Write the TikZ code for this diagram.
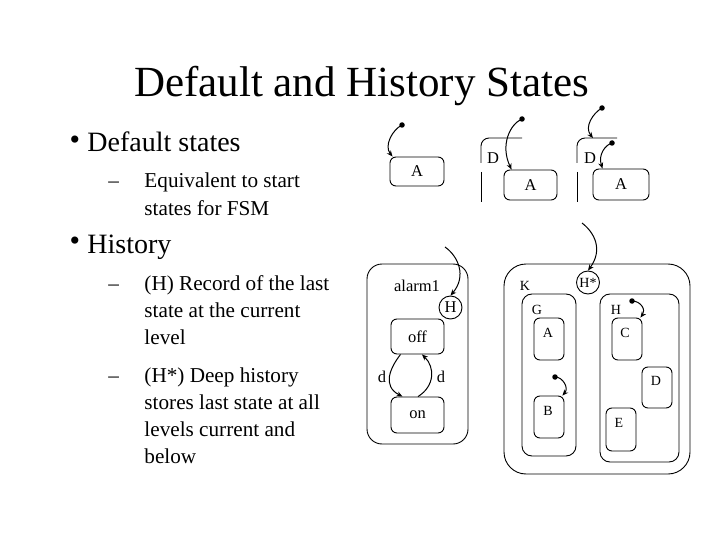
\documentclass[tikz,border=0pt]{standalone}
\usepackage{fontspec}
\setmainfont{Liberation Serif}
\usetikzlibrary{arrows.meta}
\begin{document}
\begin{tikzpicture}[x=1pt,y=-1pt,
  line width=0.9pt,
  sbox/.style={draw, rounded corners=6pt, inner sep=0pt},
  hcirc/.style={draw, circle, inner sep=0pt},
  lbl/.style={inner sep=0pt, font=\fontsize{16.5}{18}\selectfont},
  klbl/.style={inner sep=0pt, font=\fontsize{14}{16}\selectfont},
  trans/.style={-{Stealth[length=6pt,width=5pt]}, line width=1pt},
  dot/.style={fill, circle, inner sep=0pt, minimum size=5.5pt},
  body/.style={anchor=base west, inner sep=0pt, font=\fontsize{21.2}{27}\selectfont},
  head/.style={anchor=base west, inner sep=0pt, font=\fontsize{28}{32}\selectfont},
  bul/.style={inner sep=0pt, font=\fontsize{30}{32}\selectfont},
]
\useasboundingbox (0,0) rectangle (720,540);

% Title
\node[anchor=base, inner sep=0pt, font=\fontsize{43}{50}\selectfont] (title) at (361.5,97) {Default and History States};

% Text
\node[bul] (b1) at (75,143) {•};
\node[head] (t1) at (87,152) {Default states};
\node[body] (s1) at (108,188) {–};
\node[body] (t2) at (144,188) {Equivalent to start};
\node[body] (t3) at (144,215) {states for FSM};
\node[bul] (b2) at (75,244) {•};
\node[head] (t4) at (87,253) {History};
\node[body] (s2) at (108,290) {–};
\node[body] (t5) at (144,290) {(H) Record of the last};
\node[body] (t6) at (144,317) {state at the current};
\node[body] (t7) at (144,344) {level};
\node[body] (s3) at (108,382) {–};
\node[body] (t8) at (144,382) {(H*) Deep history};
\node[body] (t9) at (144,409) {stores last state at all};
\node[body] (t10) at (144,436) {levels current and};
\node[body] (t11) at (144,463) {below};

% Diagram 1: default state
\node[sbox, minimum width=54pt, minimum height=29pt, lbl] (A1) at (417,171.5) {A};
\node[dot] (d1) at (402,125) {};
\draw[trans] (d1.center) .. controls (392,130) and (384,146) .. ([xshift=3pt]A1.north west);

% Diagram 2
\draw[rounded corners=8pt] (522,138) -- (481,138) -- (481,163);
\draw (481,172) -- (481,202);
\node[lbl] (D2) at (493,158) {D};
\node[sbox, minimum width=53pt, minimum height=30pt, lbl] (A2) at (530.5,185) {A};
\node[dot] (d2) at (522,119) {};
\draw[trans] (d2.center) .. controls (510,124) and (500,145) .. ([xshift=8pt]A2.north west);

% Diagram 3
\draw[rounded corners=8pt] (617,138) -- (577,138) -- (577,163);
\draw (577,172) -- (577,202);
\coordinate (D3top) at (593,138);
\node[lbl] (D3) at (590,158) {D};
\node[sbox, minimum width=56pt, minimum height=31pt, lbl] (A3) at (621,184.5) {A};
\node[dot] (d3) at (602,108) {};
\draw[trans] (d3.center) .. controls (593,113) and (584,127) .. (D3top);
\node[dot] (d4) at (612,143) {};
\draw[trans] (d4.center) .. controls (605,145) and (598,155) .. ([xshift=10pt]A3.north west);

% alarm1 with H
\node[draw, rounded corners=15pt, minimum width=101pt, minimum height=180pt] (alarm) at (417.5,354) {};
\node[lbl] (alarmlbl) at (417,286) {alarm1};
\node[hcirc, minimum size=23pt, lbl] (H1) at (450.5,307.5) {H};
\node[sbox, minimum width=53pt, minimum height=35pt, lbl] (off) at (417.5,336.5) {off};
\node[sbox, minimum width=53pt, minimum height=36pt, lbl] (on) at (417.5,415) {on};
\coordinate (h1src) at (445,247);
\draw[trans] (h1src) .. controls (458,256) and (467,276) .. (H1.north);
\draw[trans] ([xshift=-17pt]off.south) .. controls (390,368) and (382,386) .. ([xshift=-15pt]on.north);
\draw[trans] ([xshift=0.5pt]on.north) .. controls (435,386) and (435,367) .. ([xshift=4.5pt]off.south);
\node[lbl] (dl) at (382,377) {d};
\node[lbl] (dr) at (441,377) {d};

% K with H*
\node[draw, rounded corners=22pt, minimum width=186pt, minimum height=210pt] (K) at (597,369) {};
\node[klbl] (Klbl) at (525,286) {K};
\node[hcirc, minimum size=23pt, klbl] (Hs) at (588,282.5) {H*};
\coordinate (hssrc) at (582,223);
\draw[trans] (hssrc) .. controls (595,233) and (603,250) .. (Hs.north);

\node[draw, rounded corners=10pt, minimum width=54pt, minimum height=162pt] (G) at (549,375) {};
\node[klbl] (Glbl) at (537,310) {G};
\node[sbox, minimum width=30pt, minimum height=42pt] (KA) at (549,339) {};
\node[klbl] (KAl) at (548,333) {A};
\node[sbox, minimum width=30pt, minimum height=42pt] (KB) at (549,417) {};
\node[klbl] (KBl) at (548,411) {B};
\node[dot] (d5) at (555,377) {};
\draw[trans] (d5.center) .. controls (563,377) and (569,388) .. ([xshift=-2pt]KB.north east);

\node[draw, rounded corners=10pt, minimum width=79pt, minimum height=168pt] (HH) at (639.5,378) {};
\node[klbl] (HHl) at (616,310) {H};
\node[sbox, minimum width=30pt, minimum height=42pt] (KC) at (627,339) {};
\node[klbl] (KCl) at (625,333) {C};
\node[dot] (d6) at (632,301) {};
\draw[trans] (d6.center) .. controls (641,301) and (646,310) .. ([xshift=-2pt]KC.north east);
\node[sbox, minimum width=30pt, minimum height=41pt] (KD) at (657,387.5) {};
\node[klbl] (KDl) at (656,381) {D};
\node[sbox, minimum width=30pt, minimum height=43pt] (KE) at (621,429.5) {};
\node[klbl] (KEl) at (619,423) {E};
\end{tikzpicture}
\end{document}
